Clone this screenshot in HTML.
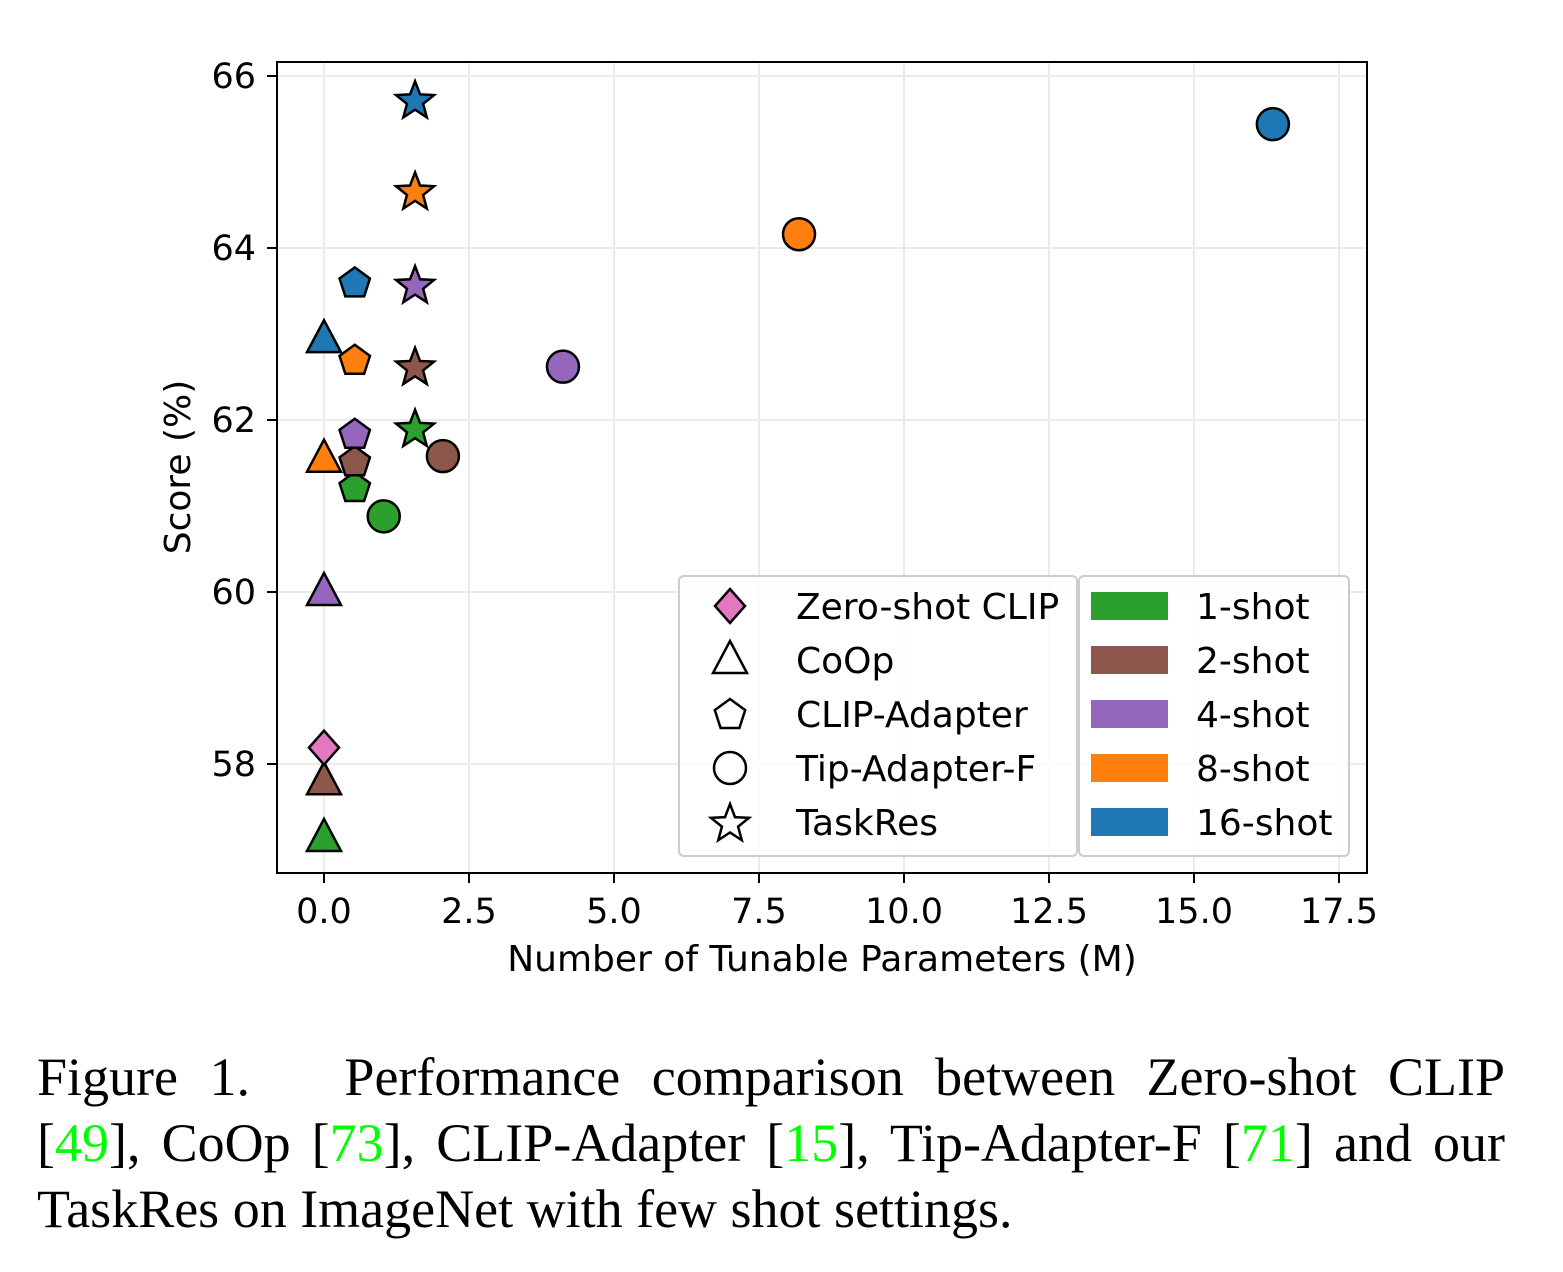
<!DOCTYPE html>
<html><head><meta charset="utf-8"><style>
body{margin:0;background:#fff;width:1563px;height:1272px;overflow:hidden;position:relative}
svg text{font-family:"DejaVu Sans","Liberation Sans",sans-serif}
.cap{position:absolute;left:37px;width:1468px;font-family:"Liberation Serif",serif;font-size:54px;line-height:66px;color:#000;white-space:nowrap}
.j{text-align:justify;text-align-last:justify;white-space:normal}
.g{color:#00ff00}
</style></head><body>
<svg id="chart" width="1563" height="1010" style="position:absolute;left:0;top:0"></svg>
<div class="cap j" style="top:1044px">Figure 1. &nbsp; Performance comparison between Zero-shot CLIP</div>
<div class="cap j" style="top:1110px">[<span class="g">49</span>], CoOp [<span class="g">73</span>], CLIP-Adapter [<span class="g">15</span>], Tip-Adapter-F [<span class="g">71</span>] and our</div>
<div class="cap" style="top:1176px">TaskRes on ImageNet with few shot settings.</div>
<script>
const xTicks=[0,2.5,5,7.5,10,12.5,15,17.5];
const yTicks=[58,60,62,64,66];
const shots=["1-shot","2-shot","4-shot","8-shot","16-shot"];
const shotColors=["#2ca02c","#8c564b","#9467bd","#ff7f0e","#1f77b4"];
const methods=["Zero-shot CLIP","CoOp","CLIP-Adapter","Tip-Adapter-F","TaskRes"];
const zeroX=[0];const zeroY=[58.19];
const coopX=[0,0,0,0,0];const coopY=[57.14,57.8,60.0,61.55,62.94];
const adapterX=[0.53,0.53,0.53,0.53,0.53];const adapterY=[61.22,61.52,61.84,62.70,63.6];
const tipX=[1.03,2.05,4.12,8.19,16.36];const tipY=[60.88,61.58,62.62,64.16,65.44];
const taskX=[1.57,1.57,1.57,1.57,1.57];const taskY=[61.91,62.63,63.58,64.67,65.73];

const NS="http://www.w3.org/2000/svg";
const svg=document.getElementById('chart');
const L=277,R=1367,T=62,B=873;
const sx=v=>324+v*58.0;
const sy=v=>764-(v-58)*86;
function el(t,a,p){const e=document.createElementNS(NS,t);for(const k in a)e.setAttribute(k,a[k]);(p||svg).appendChild(e);return e;}
xTicks.forEach(v=>{const g=el('line',{x1:sx(v),x2:sx(v),y1:T,y2:B,stroke:'#ebebeb','stroke-width':2});
});
yTicks.forEach(v=>{const g=el('line',{x1:L,x2:R,y1:sy(v),y2:sy(v),stroke:'#ebebeb','stroke-width':2});
});
function shape(kind,x,y,fill,parent){
 let e;const a={fill:fill,stroke:'#000','stroke-width':2.5,'stroke-linejoin':'miter'};
 if(kind==='circle'){a.cx=x;a.cy=y;a.r=16;e=el('circle',a,parent);}
 else{let pts=[];
  if(kind==='diamond'){pts=[[0,-17],[15,0],[0,17],[-15,0]];}
  else if(kind==='tri'){pts=[[0,-19],[17,13],[-17,13]];}
  else if(kind==='pent'){for(let i=0;i<5;i++){const an=-Math.PI/2+i*2*Math.PI/5;pts.push([16*Math.cos(an),16*Math.sin(an)+1]);}}
  else if(kind==='star'){for(let i=0;i<10;i++){const an=-Math.PI/2+i*Math.PI/5;const r=i%2?8.5:20;pts.push([r*Math.cos(an),r*Math.sin(an)+2]);}}
  a.points=pts.map(p=>(x+p[0])+','+(y+p[1])).join(' ');e=el('polygon',a,parent);}
 return e;}
function series(xs,ys,kind,name,colors){xs.forEach((v,i)=>{const m=shape(kind,sx(v),sy(ys[i]),colors[i]);
 });}
series(coopX,coopY,'tri','coop-marker',shotColors);
series(adapterX,adapterY,'pent','clip-adapter-marker',shotColors);
series(tipX,tipY,'circle','tip-adapter-marker',shotColors);
series(taskX,taskY,'star','taskres-marker',shotColors);
zeroX.forEach((v,i)=>{const m=shape('diamond',sx(v),sy(zeroY[i]),'#e377c2');
});
const fr=el('rect',{x:L,y:T,width:R-L,height:B-T,fill:'none',stroke:'#000','stroke-width':2});

xTicks.forEach(v=>{el('line',{x1:sx(v),x2:sx(v),y1:B,y2:B+10,stroke:'#000','stroke-width':2});
const t=el('text',{x:sx(v),y:923,'font-size':35,'text-anchor':'middle'});t.textContent=v.toFixed(1);
});
yTicks.forEach(v=>{el('line',{x1:L-10,x2:L,y1:sy(v),y2:sy(v),stroke:'#000','stroke-width':2});
const t=el('text',{x:256,y:sy(v)+12,'font-size':35,'text-anchor':'end'});t.textContent=v;
});
const xt=el('text',{x:822,y:971,'font-size':36,'text-anchor':'middle'});xt.textContent='Number of Tunable Parameters (M)';

const yt=el('text',{x:0,y:0,'font-size':36,'text-anchor':'middle',transform:'translate(190,467) rotate(-90)'});yt.textContent='Score (%)';

// legends
const lg1=el('g',{});
el('rect',{x:679,y:576,width:398,height:280,rx:5,fill:'#fff','fill-opacity':0.85,stroke:'#ccc','stroke-width':2},lg1);
const kinds=['diamond','tri','pent','circle','star'];
methods.forEach((m,i)=>{const y=606+i*54;const s=shape(kinds[i],730,y,i===0?'#e377c2':'#fff',lg1);
const t=el('text',{x:796,y:y+13,'font-size':36},lg1);t.textContent=m;
});
const lg2=el('g',{});
el('rect',{x:1079,y:576,width:270,height:280,rx:5,fill:'#fff','fill-opacity':0.85,stroke:'#ccc','stroke-width':2},lg2);
shots.forEach((s,i)=>{const y=606+i*54;el('rect',{x:1091,y:y-14,width:77,height:28,fill:shotColors[i]},lg2);
const t=el('text',{x:1196,y:y+13,'font-size':36},lg2);t.textContent=s;
});
</script>
</body></html>
